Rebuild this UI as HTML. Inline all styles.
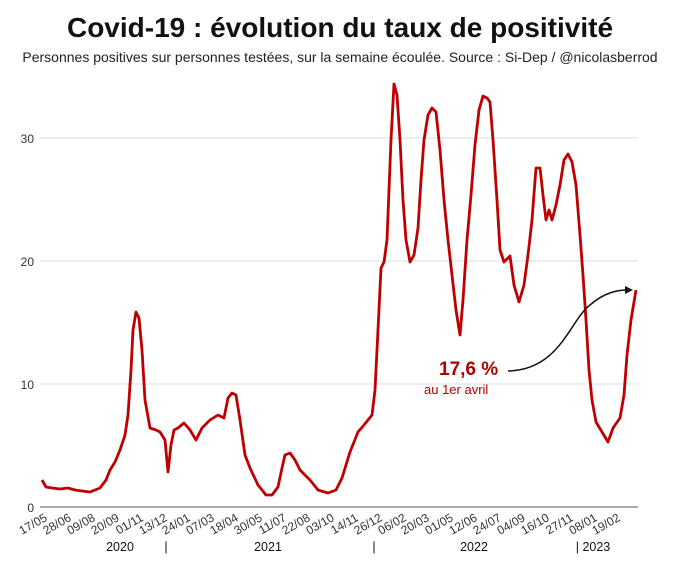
<!DOCTYPE html>
<html><head><meta charset="utf-8"><style>
html,body{margin:0;padding:0;background:#fff;width:680px;height:565px;overflow:hidden}
text{font-family:"Liberation Sans",Arial,sans-serif}
</style></head><body>
<svg width="680" height="565" viewBox="0 0 680 565" xmlns="http://www.w3.org/2000/svg">
<text x="340" y="37" text-anchor="middle" font-size="28" font-weight="bold" fill="#111">Covid-19 : évolution du taux de positivité</text>
<text x="340" y="62" text-anchor="middle" font-size="14" fill="#222">Personnes positives sur personnes testées, sur la semaine écoulée. Source : Si-Dep / @nicolasberrod</text>
<g stroke="#ddd" stroke-width="1">
<line x1="40" y1="138" x2="638" y2="138"/><line x1="40" y1="261" x2="638" y2="261"/><line x1="40" y1="384" x2="638" y2="384"/>
</g>
<line x1="40" y1="507" x2="638" y2="507" stroke="#aaa" stroke-width="2"/>
<g font-size="12" fill="#333" text-anchor="end">
<text x="34" y="143">30</text><text x="34" y="266">20</text><text x="34" y="389">10</text><text x="34" y="512">0</text>
</g>
<polyline fill="none" stroke="#c00000" stroke-width="2.8" stroke-linejoin="round" points="42,480 46,487 52,488 60,489 68,488 75,490 82,491 90,492 100,488 106,480 110,470 115,462 120,450 125,435 128,415 131,370 133,330 136,312 139,318 142,350 145,400 150,428 156,430 160,432 165,440 168,472 171,445 174,430 178,428 184,423 190,430 196,440 202,428 210,420 218,415 224,418 228,398 232,393 236,395 240,420 245,455 250,468 258,485 266,495 272,495 278,487 282,468 285,455 290,453 295,460 300,470 310,480 318,490 328,493 336,490 342,478 346,465 350,452 358,432 364,425 372,415 375,390 378,330 381,268 384,262 387,240 389,190 391,140 394,84 397,95 400,140 403,200 406,240 410,262 414,255 418,228 421,180 424,140 428,115 432,108 436,112 440,150 444,200 448,240 452,275 456,310 460,335 463,300 467,240 471,195 475,145 479,110 483,96 487,98 490,102 493,140 497,200 500,250 504,262 510,256 514,285 519,302 524,285 528,255 532,220 536,168 540,168 543,195 546,220 549,210 552,220 556,205 560,185 564,160 568,154 572,162 576,185 580,235 583,275 586,320 589,370 592,400 596,422 602,432 608,442 613,428 620,418 624,395 627,355 631,320 636,290"/>
<text x="439" y="375" font-size="19" font-weight="bold" fill="#b00000">17,6 %</text>
<text x="424" y="394" font-size="13" fill="#b00000">au 1er avril</text>
<path d="M508,371 C560,370 570,320 590,305 C605,292 618,290 628,290" fill="none" stroke="#111" stroke-width="1.5"/>
<polygon points="633,290 625,286 625,294" fill="#111"/>
<g font-size="12" fill="#333" text-anchor="end">
<text transform="translate(48,520) rotate(-30)">17/05</text>
<text transform="translate(72,520) rotate(-30)">28/06</text>
<text transform="translate(96,520) rotate(-30)">09/08</text>
<text transform="translate(120,520) rotate(-30)">20/09</text>
<text transform="translate(144,520) rotate(-30)">01/11</text>
<text transform="translate(168,520) rotate(-30)">13/12</text>
<text transform="translate(191,520) rotate(-30)">24/01</text>
<text transform="translate(215,520) rotate(-30)">07/03</text>
<text transform="translate(239,520) rotate(-30)">18/04</text>
<text transform="translate(263,520) rotate(-30)">30/05</text>
<text transform="translate(287,520) rotate(-30)">11/07</text>
<text transform="translate(311,520) rotate(-30)">22/08</text>
<text transform="translate(335,520) rotate(-30)">03/10</text>
<text transform="translate(359,520) rotate(-30)">14/11</text>
<text transform="translate(383,520) rotate(-30)">26/12</text>
<text transform="translate(407,520) rotate(-30)">06/02</text>
<text transform="translate(430,520) rotate(-30)">20/03</text>
<text transform="translate(454,520) rotate(-30)">01/05</text>
<text transform="translate(478,520) rotate(-30)">12/06</text>
<text transform="translate(502,520) rotate(-30)">24/07</text>
<text transform="translate(526,520) rotate(-30)">04/09</text>
<text transform="translate(550,520) rotate(-30)">16/10</text>
<text transform="translate(574,520) rotate(-30)">27/11</text>
<text transform="translate(598,520) rotate(-30)">08/01</text>
<text transform="translate(621,520) rotate(-30)">19/02</text>
</g>
<g font-size="12.5" fill="#111" text-anchor="middle">
<text x="120" y="551">2020</text><text x="166" y="551">|</text>
<text x="268" y="551">2021</text><text x="374" y="551">|</text>
<text x="474" y="551">2022</text><text x="593" y="551">| 2023</text>
</g>
</svg>
</body></html>
